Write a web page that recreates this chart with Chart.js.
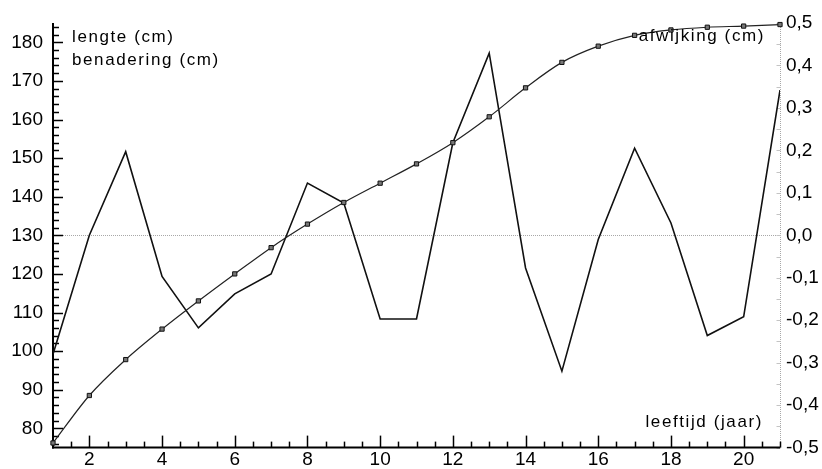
<!DOCTYPE html>
<html>
<head>
<meta charset="utf-8">
<script src="https://cdn.jsdelivr.net/npm/chart.js@4/dist/chart.umd.min.js"></script>
<style>
  html, body { margin: 0; padding: 0; background: #fff; }
  #wrap { width: 822px; height: 469px; }
</style>
</head>
<body>
<div id="wrap"><canvas id="grafiek" width="822" height="469"></canvas></div>
<script>
// waarden
const leeftijd = [1, 2, 3, 4, 5, 6, 7, 8, 9, 10, 11, 12, 13, 14, 15, 16, 17, 18, 19, 20, 21];
const benadering = [76.2, 88.5, 97.8, 105.7, 113.0, 120.0, 126.8, 132.9, 138.5, 143.5, 148.5,
                    154.0, 160.7, 168.2, 174.8, 179.0, 181.8, 183.2, 183.9, 184.2, 184.6];
const afwijking = [-0.28, 0.0, 0.197, -0.097, -0.218, -0.138, -0.091, 0.123, 0.076, -0.197, -0.197,
                   0.218, 0.429, -0.077, -0.32, -0.01, 0.205, 0.029, -0.236, -0.192, 0.342];

const lengteTicks = [80, 90, 100, 110, 120, 130, 140, 150, 160, 170, 180];
const afwijkingTicks = [-0.5, -0.4, -0.3, -0.2, -0.1, 0, 0.1, 0.2, 0.3, 0.4, 0.5];
const leeftijdTicks = [2, 4, 6, 8, 10, 12, 14, 16, 18, 20];

const tickFont = { family: '"Liberation Sans", Arial, sans-serif', size: 19 };

// assen met streepjes naar binnen, zoals in het origineel
const assenPlugin = {
  id: 'assen',
  beforeDatasetsDraw(chart) {
    const { ctx, chartArea: ca, scales } = chart;
    const x = scales.x, y = scales.y, y2 = scales.y2;
    const lijn = (x1, y1, x2, y2_) => { ctx.beginPath(); ctx.moveTo(x1, y1); ctx.lineTo(x2, y2_); ctx.stroke(); };
    ctx.save();

    // stippellijn op nul
    ctx.strokeStyle = '#a8a8a8';
    ctx.lineWidth = 1;
    ctx.setLineDash([1, 1]);
    const y0 = Math.round(y2.getPixelForValue(0)) + 0.5;
    lijn(ca.left, y0, ca.right, y0);

    // rechter as (grijs, gestippeld)
    const xr = Math.round(ca.right) + 0.5;
    lijn(xr, ca.top, xr, ca.bottom);
    ctx.setLineDash([]);
    ctx.strokeStyle = '#c4c4c4';
    for (let v = -0.5; v <= 0.5001; v += 0.05) {
      const py = Math.round(y2.getPixelForValue(v)) + 0.5;
      lijn(xr - 4, py, xr, py);
    }

    // linker as
    ctx.strokeStyle = '#000';
    ctx.lineWidth = 2;
    lijn(ca.left, ca.top, ca.left, ca.bottom + 1);
    ctx.lineWidth = 1.5;
    for (let v = 76; v <= 184; v += 2) {
      const py = Math.round(y.getPixelForValue(v)) + 0.5;
      const len = v % 10 === 0 ? 10 : 6;
      lijn(ca.left, py, ca.left + len, py);
    }

    // onderste as
    ctx.lineWidth = 2;
    lijn(ca.left - 1, ca.bottom, ca.right, ca.bottom);
    ctx.lineWidth = 1.5;
    for (let v = 1.5; v <= 21; v += 0.5) {
      const px = Math.round(x.getPixelForValue(v)) + 0.5;
      const len = v % 2 === 0 ? 12 : 6;
      lijn(px, ca.bottom, px, ca.bottom - len);
    }
    ctx.restore();
  },
  afterDraw(chart) {
    const { ctx, chartArea: ca } = chart;
    ctx.save();
    ctx.fillStyle = '#000';
    ctx.font = '17px "Liberation Sans", Arial, sans-serif';
    ctx.letterSpacing = '1.6px';
    ctx.textBaseline = 'alphabetic';
    ctx.textAlign = 'left';
    ctx.fillText('lengte (cm)', ca.left + 19, ca.top + 19);
    ctx.fillText('benadering (cm)', ca.left + 19, ca.top + 42);
    ctx.textAlign = 'right';
    ctx.fillText('afwijking (cm)', ca.right - 15, ca.top + 18);
    ctx.fillText('leeftijd (jaar)', ca.right - 17, ca.bottom - 21);
    ctx.restore();
  }
};

new Chart(document.getElementById('grafiek'), {
  type: 'line',
  data: {
    datasets: [
      {
        label: 'benadering (cm)',
        data: leeftijd.map((t, i) => ({ x: t, y: benadering[i] })),
        yAxisID: 'y',
        borderColor: '#222',
        borderWidth: 1.2,
        cubicInterpolationMode: 'monotone',
        pointStyle: 'rect',
        pointRadius: 3,
        pointBackgroundColor: '#777',
        pointBorderColor: '#111',
        pointBorderWidth: 1,
        clip: false
      },
      {
        label: 'afwijking (cm)',
        data: leeftijd.map((t, i) => ({ x: t, y: afwijking[i] })),
        yAxisID: 'y2',
        borderColor: '#111',
        borderWidth: 1.6,
        tension: 0,
        pointRadius: 0
      }
    ]
  },
  options: {
    responsive: false,
    animation: false,
    devicePixelRatio: 1,
    layout: { padding: { top: 23, left: 0, right: 0, bottom: 0 } },
    plugins: {
      legend: { display: false },
      tooltip: { enabled: false }
    },
    scales: {
      x: {
        type: 'linear',
        position: 'bottom',
        min: 1,
        max: 21,
        grid: { display: false, drawTicks: false },
        border: { display: false },
        ticks: { font: tickFont, color: '#000', padding: 1, maxRotation: 0 },
        afterBuildTicks: s => { s.ticks = leeftijdTicks.map(v => ({ value: v })); },
        afterFit: s => { s.height = 21; }
      },
      y: {
        position: 'left',
        min: 75,
        max: 185,
        grid: { display: false, drawTicks: false },
        border: { display: false },
        ticks: { font: tickFont, color: '#000', padding: 10 },
        afterBuildTicks: s => { s.ticks = lengteTicks.map(v => ({ value: v })); },
        afterFit: s => { s.width = 53; }
      },
      y2: {
        position: 'right',
        min: -0.5,
        max: 0.5,
        grid: { display: false, drawTicks: false },
        border: { display: false },
        ticks: {
          font: tickFont,
          color: '#000',
          padding: 6,
          callback: v => v.toFixed(1).replace('.', ',')
        },
        afterBuildTicks: s => { s.ticks = afwijkingTicks.map(v => ({ value: v })); },
        afterFit: s => { s.width = 42; }
      }
    }
  },
  plugins: [assenPlugin]
});
</script>
</body>
</html>
